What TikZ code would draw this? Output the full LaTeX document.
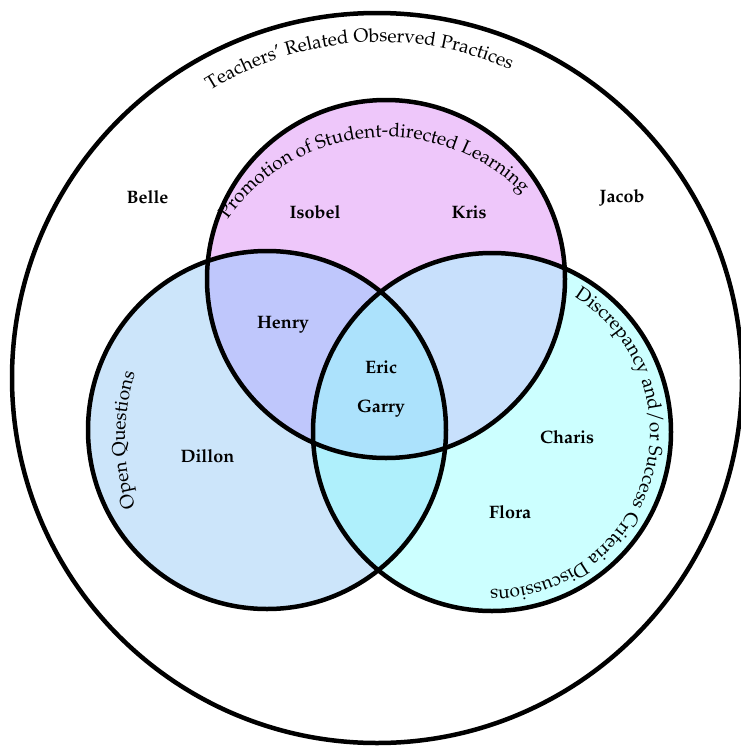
\documentclass[tikz,border=0pt]{standalone}
\usepackage[T1]{fontenc}
\usepackage{mathpazo}
\usepackage{xcolor}
\usetikzlibrary{calc,decorations.text}
\definecolor{promotion}{RGB}{238,199,250}
\definecolor{openq}{RGB}{204,229,250}
\definecolor{discrepancy}{RGB}{204,255,255}
\definecolor{promoopen}{RGB}{191,199,252}
\definecolor{promodisc}{RGB}{200,224,252}
\definecolor{opendisc}{RGB}{175,240,252}
\definecolor{allthree}{RGB}{172,226,252}
\newcommand{\namefont}{\fontsize{18}{20}\selectfont\bfseries}
\newcommand{\labelfont}{\fontsize{19}{21}\selectfont}
\newcommand{\overlapfill}[3]{
  \begin{scope}
    \clip (#1) circle[radius=179];
    \fill[#3] (#2) circle[radius=179];
  \end{scope}
}
\newcommand{\arclabel}[5]{
  % centre, radius, start angle, end angle, text
  \path[decorate,decoration={text along path,text align=center,text={|\labelfont|#5}}]
    ($(#1)+(#3:#2pt)$) arc[start angle=#3,end angle=#4,radius=#2pt];
}
\tikzstyle{person}=[font=\namefont,anchor=base,inner sep=0pt]
\tikzstyle{ring}=[draw=black,line width=4.5pt]
\tikzset{y=-1pt}
\tikzset{x=1pt}

\begin{document}
\begin{tikzpicture}
  \useasboundingbox (0,0) rectangle (741,747);
  \coordinate (outer) at (377,378);
  \coordinate (P) at (386,279);
  \coordinate (O) at (267,430);
  \coordinate (D) at (492,432);

  \fill[promotion] (P) circle[radius=179];
  \fill[openq] (O) circle[radius=179];
  \fill[discrepancy] (D) circle[radius=179];
  \overlapfill{P}{O}{promoopen}
  \overlapfill{P}{D}{promodisc}
  \overlapfill{O}{D}{opendisc}
  \begin{scope}
    \clip (P) circle[radius=179];
    \overlapfill{O}{D}{allthree}
  \end{scope}

  \draw[ring] (P) circle[radius=179];
  \draw[ring] (O) circle[radius=179];
  \draw[ring] (D) circle[radius=179];
  \draw[ring] (outer) circle[radius=365];

  %% circle labels
  \coordinate (outerarc) at (380,362);
  \coordinate (promoarc) at (386,330);
  \coordinate (openarc) at (350,440);
  \arclabel{outerarc}{320}{150}{38}{Teachers' Related Observed Practices}
  \arclabel{promoarc}{193}{168}{22}{Promotion of Student-directed Learning}
  \arclabel{openarc}{225}{213}{147}{Open Questions}
  \arclabel{D}{158}{84}{-116}{Discrepancy and/or Success Criteria Discussions}

  %% teachers
  \node[person] (belle) at (147.5,203) {Belle};
  \node[person] (jacob) at (622,202) {Jacob};
  \node[person] (isobel) at (315,218) {Isobel};
  \node[person] (kris) at (469,218) {Kris};
  \node[person] (henry) at (283,328) {Henry};
  \node[person] (eric) at (381,373) {Eric};
  \node[person] (garry) at (381,412) {Garry};
  \node[person] (dillon) at (207.5,462) {Dillon};
  \node[person] (charis) at (567,443) {Charis};
  \node[person] (flora) at (510,518) {Flora};
\end{tikzpicture}
\end{document}
